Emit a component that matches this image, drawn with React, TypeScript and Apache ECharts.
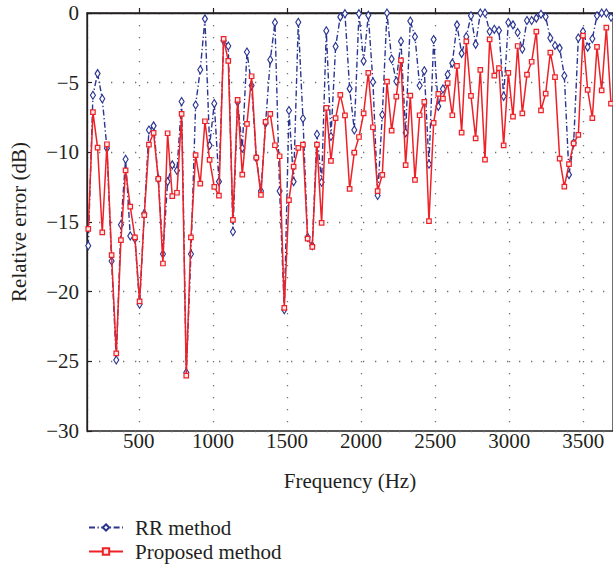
import React, { useEffect, useRef } from "react";
import * as echarts from "echarts";

// Frequency grid (Hz): uniform analysis bins
const FREQ_START = 158.5;
const FREQ_STEP = 31.5;

// Relative error (dB), RR method
const RR_METHOD = [
  -16.7, -5.9, -4.35, -6.15, -9.7, -17.8, -24.9, -15.2, -10.5, -16.0,
  -16.2, -20.9, -14.4, -8.4, -8.1, -11.9, -17.3, -12.1, -10.9, -11.3,
  -6.35, -25.8, -17.3, -6.6, -4.07, -0.42, -9.5, -6.5, -12.1, -2.0,
  -2.37, -15.7, -6.38, -9.7, -2.8, -5.2, -10.4, -12.77, -7.9, -3.36,
  -0.68, -12.78, -21.3, -7.0, -12.1, -0.67, -7.57, -16.1, -16.7, -8.7,
  -12.15, -1.28, -8.86, -2.4, -0.28, -0.05, -5.43, -8.4, -0.05, -3.45,
  -0.17, -4.95, -13.1, -7.3, 0, -3.3, -4.9, -2.03, -8.6, -0.58,
  -1.7, -5.2, -4.15, -10.85, -1.9, -6.7, -5.45, -4.42, -3.6, -0.85,
  -2.9, -1.7, -0.2, -2.25, 0, 0, -1.33, -1.17, -1.26, -5.98,
  -0.68, -0.85, -1.4, -2.59, -0.54, -0.54, -0.37, -0.09, -0.27, -1.8,
  -2.33, -2.52, -4.5, -11.6, -9.33, -1.8, -1.33, -2.45, -1.85, -0.2,
  0, 0, -0.3,
];

// Relative error (dB), proposed method
const PROPOSED_METHOD = [
  -15.5, -7.12, -9.66, -15.75, -9.42, -17.38, -24.43, -16.3, -11.3, -13.9,
  -16.1, -20.7, -14.5, -9.44, -8.6, -11.9, -17.98, -8.63, -13.15, -12.9,
  -7.24, -26.03, -16.1, -10.2, -12.24, -7.77, -10.54, -12.48, -13.1, -1.86,
  -3.44, -14.85, -6.24, -11.6, -7.96, -4.54, -10.38, -13.05, -7.82, -7.24,
  -9.49, -10.28, -21.16, -13.43, -11.02, -9.68, -9.44, -16.2, -16.78, -9.44,
  -15.06, -6.81, -10.61, -7.55, -5.88, -7.35, -12.62, -10.02, -8.9, -7.2,
  -4.3, -8.2, -12.78, -11.62, -4.93, -8.44, -6.0, -3.4, -10.92, -5.93,
  -11.98, -7.34, -6.38, -14.94, -7.89, -5.81, -6.14, -5.04, -7.34, -3.8,
  -8.58, -2.03, -5.95, -9.0, -4.08, -10.52, -1.9, -4.5, -3.95, -9.5,
  -4.3, -7.44, -2.37, -7.2, -4.42, -3.5, -1.34, -6.99, -5.78, -2.85,
  -4.6, -10.45, -12.46, -10.85, -9.36, -8.75, -1.62, -5.52, -7.55, -2.43,
  -5.56, -1.05, -6.5,
];

const SERIES_NAMES = ["RR method", "Proposed method"];

const FONT = "'Liberation Serif', 'DejaVu Serif', serif";
const INK = "#231f20";
const BLUE = "#2b3590";
const RED = "#ec2228";

export default function App() {
  const ref = useRef<HTMLDivElement>(null);

  useEffect(() => {
    if (!ref.current) return;
    const chart = echarts.init(ref.current, undefined, { renderer: "svg" });
    const toPairs = (arr: number[]) =>
      arr.map((v, i) => [FREQ_START + i * FREQ_STEP, v]);

    const dotted = {
      show: true,
      lineStyle: { color: "#6d6e71", width: 1.3, type: [1.3, 10.7] as any },
    };

    const legendBase = {
      orient: "horizontal",
      left: 86,
      itemWidth: 34,
      itemHeight: 8,
      padding: 2,
      textStyle: {
        fontFamily: FONT,
        fontSize: 21,
        color: INK,
        padding: [0, 0, 0, 7],
      },
    };

    chart.setOption({
      animation: false,
      backgroundColor: "#ffffff",
      grid: {
        left: 87,
        top: 13,
        width: 530,
        height: 418,
        show: true,
        borderColor: INK,
        borderWidth: 1.3,
        backgroundColor: "transparent",
      },
      legend: [
        { ...legendBase, data: [SERIES_NAMES[0]], top: 515 },
        { ...legendBase, data: [SERIES_NAMES[1]], top: 539 },
      ],
      xAxis: {
        type: "value",
        min: 150,
        max: 3700,
        splitNumber: 7,
        name: "Frequency (Hz)",
        nameLocation: "middle",
        nameGap: 39,
        nameTextStyle: { fontFamily: FONT, fontSize: 21, color: INK },
        axisLine: { show: true, lineStyle: { color: INK, width: 1.3 } },
        axisTick: { show: true, inside: true, length: 5, lineStyle: { color: INK, width: 1.2 } },
        axisLabel: {
          fontFamily: FONT,
          fontSize: 21,
          color: INK,
          margin: -1,
          showMinLabel: false,
          showMaxLabel: false,
          formatter: (v: number) => String(v),
        },
        splitLine: dotted,
      },
      yAxis: {
        type: "value",
        min: -30,
        max: 0,
        interval: 5,
        name: "Relative error (dB)",
        nameLocation: "middle",
        nameGap: 58,
        nameTextStyle: { fontFamily: FONT, fontSize: 21, color: INK },
        axisLine: { show: true, lineStyle: { color: INK, width: 1.3 } },
        axisTick: { show: true, inside: true, length: 5, lineStyle: { color: INK, width: 1.2 } },
        axisLabel: {
          fontFamily: FONT,
          fontSize: 21,
          color: INK,
          margin: 8,
          formatter: (v: number) => (v < 0 ? "\u2212" + Math.abs(v) : String(v)),
        },
        splitLine: dotted,
      },
      series: [
        {
          name: SERIES_NAMES[0],
          type: "line",
          data: toPairs(RR_METHOD),
          symbol: "diamond",
          symbolSize: [5, 8],
          showAllSymbol: true,
          lineStyle: { color: BLUE, width: 1.4, type: [6, 2.5, 1.3, 2.5] as any },
          itemStyle: { color: "#ffffff", borderColor: BLUE, borderWidth: 1.2 },
          z: 2,
        },
        {
          name: SERIES_NAMES[1],
          type: "line",
          data: toPairs(PROPOSED_METHOD),
          symbol: "rect",
          symbolSize: 4.5,
          showAllSymbol: true,
          lineStyle: { color: RED, width: 1.5, type: "solid" },
          itemStyle: { color: "#fde8e8", borderColor: RED, borderWidth: 1.2 },
          z: 3,
        },
      ],
    });

    return () => chart.dispose();
  }, []);

  return (
    <div
      ref={ref}
      style={{ position: "fixed", left: 0, top: 0, width: 613, height: 565 }}
    />
  );
}
